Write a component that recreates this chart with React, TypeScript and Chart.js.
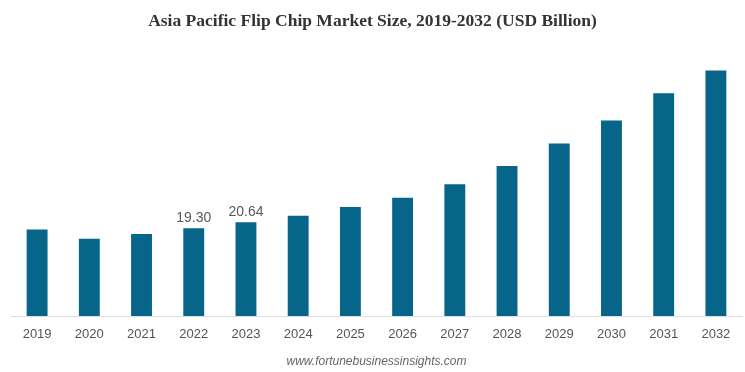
import React, { useEffect, useRef } from "react";
import { Chart, registerables } from "chart.js";

Chart.register(...registerables);

const titleText = "Asia Pacific Flip Chip Market Size, 2019-2032 (USD Billion)";
const sourceText = "www.fortunebusinessinsights.com";
const years = ["2019", "2020", "2021", "2022", "2023", "2024", "2025", "2026", "2027", "2028", "2029", "2030", "2031", "2032"];
const marketSize = [19.05, 17.0, 18.02, 19.3, 20.64, 22.05, 24.0, 26.0, 29.0, 33.0, 37.95, 43.0, 49.0, 54.0];
const labelledYears = ["2022", "2023"];

const valueLabels = {
  id: "valueLabels",
  afterDatasetsDraw(chart: any) {
    const ctx = chart.ctx;
    const meta = chart.getDatasetMeta(0);
    ctx.save();
    ctx.font = "14px 'Liberation Sans', Arial, sans-serif";
    ctx.fillStyle = "#595959";
    ctx.textAlign = "center";
    ctx.textBaseline = "bottom";
    years.forEach((y, i) => {
      if (!labelledYears.includes(y)) return;
      const el = meta.data[i];
      ctx.fillText(marketSize[i].toFixed(2), el.x, el.y - 3);
    });
    ctx.restore();
  },
};

const pageTitle = {
  id: "pageTitle",
  afterDraw(chart: any) {
    const ctx = chart.ctx;
    ctx.save();
    ctx.font = "bold 17.5px 'Liberation Serif', 'Times New Roman', serif";
    ctx.fillStyle = "#333333";
    ctx.textAlign = "center";
    ctx.textBaseline = "middle";
    ctx.fillText(titleText, chart.width / 2, 21);
    ctx.restore();
  },
};

export default function App() {
  const ref = useRef<HTMLCanvasElement>(null);
  useEffect(() => {
    if (!ref.current) return;
    const chart = new Chart(ref.current, {
      type: "bar",
      data: {
        labels: years,
        datasets: [
          {
            data: marketSize,
            backgroundColor: "#07658a",
            barPercentage: 0.8,
            categoryPercentage: 0.5,
          },
        ],
      },
      options: {
        responsive: false,
        animation: false,
        layout: { padding: { left: 11, right: 3, top: 43.2, bottom: 0 } },
        plugins: {
          legend: { display: false },
          tooltip: { enabled: false },
          title: { display: false },
          subtitle: {
            display: true,
            position: "bottom",
            text: sourceText,
            color: "#666666",
            font: { family: "'Liberation Sans', Arial, sans-serif", size: 12, style: "italic", lineHeight: 1 },
            padding: { top: 2.4, bottom: 4 },
          },
        },
        scales: {
          x: {
            grid: { display: false, drawTicks: false },
            border: { display: true, color: "#dddddd", width: 1 },
            ticks: {
              color: "#555555",
              padding: 11,
              font: { family: "'Liberation Sans', Arial, sans-serif", size: 13 },
            },
          },
          y: {
            display: false,
            min: 0,
            max: 60,
          },
        },
      },
      plugins: [valueLabels, pageTitle],
    });
    return () => chart.destroy();
  }, []);
  return (
    <div style={{ position: "fixed", top: 0, left: 0, width: 745, height: 372, background: "#fff" }}>
      <canvas ref={ref} width={745} height={372} />
    </div>
  );
}
